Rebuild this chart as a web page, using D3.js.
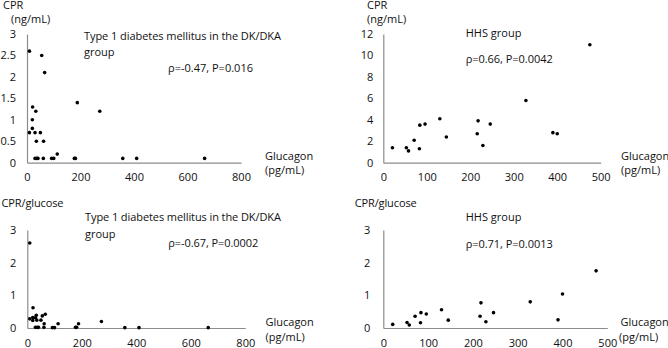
<!DOCTYPE html>
<html>
<head>
<meta charset="utf-8">
<script src="https://cdn.jsdelivr.net/npm/d3@7"></script>
<style>
  body { margin: 0; background: #fff; }
  text { font-family: "Open Sans", Lato, sans-serif; font-size: 11px; fill: #111; }
</style>
</head>
<body>
<div id="chart"></div>
<script>
// DK/DKA group (type 1 diabetes)
const dkaGlucagon = [9, 9, 20, 20, 21, 30, 30, 33, 35, 37, 41, 50, 55, 61, 62, 66, 92, 100, 113, 177, 181, 188, 272, 358, 410, 664];
const dkaCpr      = [2.6, 0.7, 1.0, 0.8, 1.3, 0.7, 0.1, 1.2, 0.5, 0.1, 0.1, 0.7, 2.5, 0.1, 0.5, 2.1, 0.1, 0.1, 0.2, 0.1, 0.1, 1.4, 1.2, 0.1, 0.1, 0.1];
const dkaRatio    = [2.6, 0.28, 0.32, 0.23, 0.62, 0.31, 0.02, 0.39, 0.24, 0.02, 0.02, 0.24, 0.37, 0.02, 0.13, 0.42, 0.01, 0.01, 0.13, 0.02, 0.02, 0.13, 0.2, 0.01, 0.01, 0.01];

// HHS group
const hhsGlucagon = [21, 53, 58, 71, 83, 84, 96, 130, 145, 216, 218, 229, 246, 328, 390, 400, 475];
const hhsCpr      = [1.4, 1.4, 1.1, 2.1, 1.3, 3.5, 3.6, 4.1, 2.4, 2.7, 3.9, 1.6, 3.6, 5.8, 2.8, 2.7, 11.0];
const hhsRatio    = [0.11, 0.17, 0.09, 0.36, 0.16, 0.47, 0.43, 0.56, 0.24, 0.36, 0.77, 0.19, 0.47, 0.8, 0.25, 1.04, 1.75];

const dkaXTicks = [0, 200, 400, 600, 800];
const hhsXTicks = [0, 100, 200, 300, 400, 500];
const dkaCprTicks = [0, 0.5, 1, 1.5, 2, 2.5, 3];
const hhsCprTicks = [0, 2, 4, 6, 8, 10, 12];
const ratioTicks = [0, 1, 2, 3];

const svg = d3.select("#chart").append("svg")
  .attr("width", 668)
  .attr("height", 348);

function panel(o) {
  const g = svg.append("g");
  const x = d3.scaleLinear().domain(o.xDomain).range([o.left, o.right]);
  const y = d3.scaleLinear().domain(o.yDomain).range([o.bottom, o.top]);

  g.append("g")
    .attr("transform", "translate(0," + o.bottom + ")")
    .call(d3.axisBottom(x).tickValues(o.xTicks).tickSize(0).tickSizeOuter(0).tickPadding(11).tickFormat(d3.format("d")));
  g.append("g")
    .attr("transform", "translate(" + o.left + ",0)")
    .call(d3.axisLeft(y).tickValues(o.yTicks).tickSize(0).tickSizeOuter(0).tickPadding(o.yPad).tickFormat(d => String(d)));

  g.selectAll(".domain").attr("stroke", "#8c8c8c").attr("stroke-width", 1.2);
  g.selectAll(".tick text").style("font-size", "11px").attr("fill", "#111");

  g.selectAll("circle.pt")
    .data(o.xs.map((v, i) => [v, o.ys[i]]))
    .enter()
    .append("circle")
    .attr("class", "pt")
    .attr("cx", d => x(d[0]))
    .attr("cy", d => y(d[1]))
    .attr("r", 1.8)
    .attr("fill", "#000");

  // labels: [x, y, text, width to fit (optional)]
  o.texts.forEach(t => {
    const el = g.append("text").attr("x", t[0]).attr("y", t[1]).attr("dy", "0.35em").text(t[2]);
    if (t[3]) el.attr("textLength", t[3]).attr("lengthAdjust", "spacing");
  });
}

panel({
  left: 27, right: 241, top: 34, bottom: 162.7,
  xDomain: [0, 800], yDomain: [0, 3],
  xTicks: dkaXTicks, yTicks: dkaCprTicks, yPad: 11,
  xs: dkaGlucagon, ys: dkaCpr,
  texts: [
    [3, 5, "CPR"], [11, 19, "(ng/mL)"],
    [84, 36, "Type 1 diabetes mellitus in the DK/DKA", 197], [84, 52, "group"],
    [168, 68, "ρ=-0.47, P=0.016", 85],
    [265, 156, "Glucagon"], [265, 170.5, "(pg/mL)"]
  ]
});

panel({
  left: 383.3, right: 600.7, top: 34, bottom: 162.7,
  xDomain: [0, 500], yDomain: [0, 12],
  xTicks: hhsXTicks, yTicks: hhsCprTicks, yPad: 10,
  xs: hhsGlucagon, ys: hhsCpr,
  texts: [
    [367, 5, "CPR"], [367, 19, "(ng/mL)"],
    [465.7, 33, "HHS group"],
    [465.7, 59.5, "ρ=0.66, P=0.0042", 87],
    [621, 156, "Glucagon"], [621, 170.5, "(pg/mL)"]
  ]
});

panel({
  left: 27.3, right: 245.3, top: 230, bottom: 328,
  xDomain: [0, 800], yDomain: [0, 3],
  xTicks: dkaXTicks, yTicks: ratioTicks, yPad: 11,
  xs: dkaGlucagon, ys: dkaRatio,
  texts: [
    [1.5, 203.5, "CPR/glucose", 62],
    [85, 217.5, "Type 1 diabetes mellitus in the DK/DKA", 196], [85, 234, "group"],
    [168.3, 243.5, "ρ=-0.67, P=0.0002", 90],
    [265.5, 322.5, "Glucagon"], [265.5, 337, "(pg/mL)"]
  ]
});

panel({
  left: 383.3, right: 607.3, top: 230, bottom: 328,
  xDomain: [0, 500], yDomain: [0, 3],
  xTicks: hhsXTicks, yTicks: ratioTicks, yPad: 13,
  xs: hhsGlucagon, ys: hhsRatio,
  texts: [
    [354.7, 203.5, "CPR/glucose", 62],
    [465.7, 217.5, "HHS group"],
    [465.7, 244, "ρ=0.71, P=0.0013", 87],
    [620.5, 322.5, "Glucagon"], [619, 337, "(pg/mL)"]
  ]
});
</script>
</body>
</html>
